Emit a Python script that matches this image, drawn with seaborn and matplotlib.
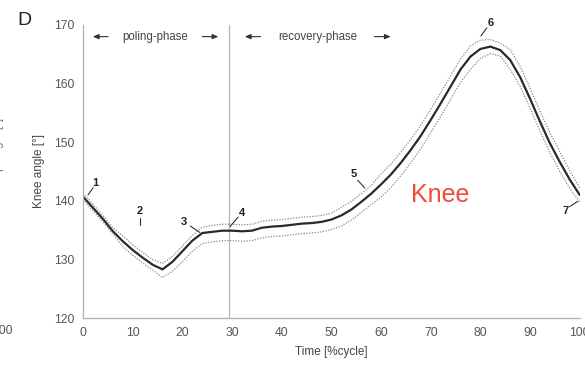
import matplotlib
matplotlib.use("Agg")
import matplotlib.pyplot as plt
import seaborn as sns
import pandas as pd

# Knee angle over the gait cycle (mean and +/- SD band)
time_pct = list(range(0, 101, 2))
knee_mean = [140.7, 138.8, 136.9, 134.8, 133.1, 131.6, 130.3, 129.1, 128.3, 129.6,
             131.4, 133.2, 134.5, 134.7, 134.9, 134.9, 134.8, 134.9, 135.4, 135.6,
             135.7, 135.9, 136.1, 136.2, 136.4, 136.8, 137.5, 138.5, 139.8, 141.2,
             142.8, 144.5, 146.5, 148.7, 151.1, 153.8, 156.6, 159.5, 162.4, 164.6,
             165.9, 166.3, 165.7, 164.0, 161.1, 157.4, 153.5, 149.8, 146.6, 143.6,
             141.0]
knee_upper = [141.3, 139.4, 137.5, 135.4, 134.0, 132.5, 131.2, 130.0, 129.3, 130.5,
              132.3, 134.1, 135.5, 135.8, 136.0, 136.0, 135.9, 136.0, 136.5, 136.7,
              136.8, 137.0, 137.2, 137.3, 137.5, 137.9, 138.9, 139.9, 141.2, 142.6,
              144.6, 146.3, 148.3, 150.5, 152.9, 155.6, 158.4, 161.3, 164.2, 166.4,
              167.4, 167.5, 166.9, 165.8, 162.9, 159.2, 155.3, 151.6, 148.4, 145.1,
              142.2]
knee_lower = [140.2, 138.3, 136.4, 134.3, 132.2, 130.7, 129.4, 128.2, 126.9, 128.0,
              129.6, 131.4, 132.7, 133.0, 133.2, 133.2, 133.1, 133.2, 133.7, 133.9,
              134.0, 134.2, 134.4, 134.5, 134.7, 135.1, 135.7, 136.7, 138.0, 139.4,
              140.6, 142.3, 144.3, 146.5, 148.9, 151.6, 154.4, 157.3, 160.2, 162.4,
              164.3, 165.1, 164.7, 162.4, 159.5, 155.8, 151.9, 148.2, 145.0, 142.1,
              139.8]

# Event markers: label, text position, leader line start/end (data coords)
event_labels = ["1", "2", "3", "4", "5", "6", "7"]
event_text_x = [2.4, 11.5, 20.3, 32.0, 54.5, 82.1, 97.2]
event_text_y = [143.1, 138.3, 136.4, 138.0, 144.6, 170.3, 138.3]
event_line_x0 = [2.0, 11.5, 21.6, 31.2, 55.3, 81.3, 98.0]
event_line_y0 = [142.2, 137.1, 135.7, 137.2, 143.5, 169.5, 139.0]
event_line_x1 = [1.0, 11.5, 23.5, 29.6, 56.7, 80.1, 99.6]
event_line_y1 = [141.0, 135.9, 134.6, 135.6, 142.2, 168.1, 139.9]

phase_boundary = 29.4

df = pd.DataFrame({"time": time_pct, "mean": knee_mean,
                   "upper": knee_upper, "lower": knee_lower})

sns.set_style("white")
plt.rcParams["font.family"] = ["Liberation Sans", "DejaVu Sans"]

fig = plt.figure(figsize=(5.85, 3.66), dpi=100)
ax = fig.add_axes([0.142, 0.131, 0.849, 0.801])

sns.lineplot(data=df, x="time", y="upper", ax=ax, color="#8a8a8a",
             linestyle=(0, (1, 1.2)), linewidth=0.9, estimator=None)
sns.lineplot(data=df, x="time", y="lower", ax=ax, color="#8a8a8a",
             linestyle=(0, (1, 1.2)), linewidth=0.9, estimator=None)
sns.lineplot(data=df, x="time", y="mean", ax=ax, color="#2a2a2a",
             linewidth=1.6, estimator=None)

ax.axvline(phase_boundary, color="#b5b5b5", linewidth=0.9, zorder=0)

ax.set_xlim(0, 100)
ax.set_ylim(120, 170)
ax.set_xticks(range(0, 101, 10))
ax.set_yticks(range(120, 171, 10))
ax.set_xlabel("Time [%cycle]", fontsize=8.5, color="#444444", labelpad=5)
ax.set_ylabel("Knee angle [°]", fontsize=8.5, color="#444444", labelpad=6)
ax.tick_params(axis="both", labelsize=8.8, colors="#b0b0b0", labelcolor="#555555",
               length=3.5, width=0.8, direction="out", pad=3)
for side in ("top", "right"):
    ax.spines[side].set_visible(False)
for side in ("left", "bottom"):
    ax.spines[side].set_color("#b0b0b0")
    ax.spines[side].set_linewidth(0.9)

# Phase labels with arrows
arrow_kw = dict(arrowstyle="-|>,head_length=0.35,head_width=0.15",
                color="#333333", lw=0.8)
ax.text(14.5, 168.0, "poling-phase", fontsize=8.3, color="#444444",
        ha="center", va="center")
ax.annotate("", xy=(1.4, 168.0), xytext=(5.6, 168.0), arrowprops=arrow_kw)
ax.annotate("", xy=(27.8, 168.0), xytext=(23.4, 168.0), arrowprops=arrow_kw)
ax.text(47.3, 168.0, "recovery-phase", fontsize=8.3, color="#444444",
        ha="center", va="center")
ax.annotate("", xy=(32.0, 168.0), xytext=(36.3, 168.0), arrowprops=arrow_kw)
ax.annotate("", xy=(62.5, 168.0), xytext=(58.1, 168.0), arrowprops=arrow_kw)

# Event numbers with leader lines
for lab, tx, ty, x0, y0, x1, y1 in zip(event_labels, event_text_x, event_text_y,
                                       event_line_x0, event_line_y0,
                                       event_line_x1, event_line_y1):
    ax.text(tx, ty, lab, fontsize=8, fontweight="bold", color="#222222",
            ha="center", va="center")
    ax.plot([x0, x1], [y0, y1], color="#333333", linewidth=0.8)

ax.text(66.0, 141.0, "Knee", fontsize=18, color="#f04a3a",
        ha="left", va="center")

# Panel letter and the clipped edge of the neighbouring panel
fig.text(0.029, 0.945, "D", fontsize=14, color="#222222", ha="left", va="center")
fig.text(0.021, 0.096, "100", fontsize=8.8, color="#555555", ha="right", va="center")
fig.text(-0.004, 0.59, "Hip angle [°]", fontsize=8.5, color="#777777",
         rotation=90, ha="center", va="center")

fig.savefig("out.png", dpi=100, facecolor="white")
